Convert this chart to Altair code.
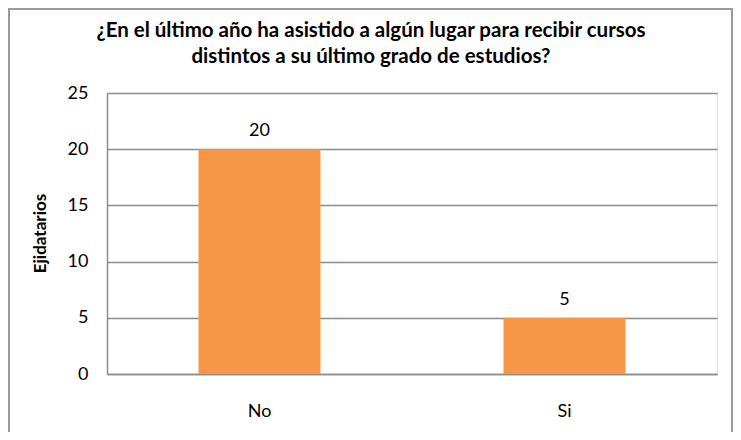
import altair as alt
import pandas as pd

categories = ["No", "Si"]
values = [20, 5]
title_lines = ["¿En el último año ha asistido a algún lugar para recibir cursos",
               "distintos a su último grado de estudios?"]

df = pd.DataFrame({"respuesta": categories, "ejidatarios": values})

W, H = 610, 281
PL, PT, PR, PB = 99, 85, 16, 58
FS = 18

base = alt.Chart(df)

bars = base.mark_bar(color="#F79646", size=122).encode(
    x=alt.X("respuesta:N", sort=categories,
            scale=alt.Scale(paddingInner=0, paddingOuter=0),
            axis=alt.Axis(title=None, labelAngle=0, ticks=False, tickSize=0,
                          labelPadding=28, labelFontSize=FS, labelColor="#000000",
                          labelFont="Lato", domainColor="#8c8c8c", domainWidth=1.5, grid=False)),
    y=alt.Y("ejidatarios:Q",
            scale=alt.Scale(domain=[0, 25], nice=False),
            axis=alt.Axis(values=[0, 5, 10, 15, 20, 25], title="Ejidatarios",
                          titleFont="Lato", titleFontSize=17, titleFontWeight="bold",
                          titleColor="#000000", titleAngle=-90, titleX=-67, titleY=140,
                          titleAlign="center", titleBaseline="middle",
                          labelFont="Lato", labelFontSize=FS, labelColor="#000000",
                          labelPadding=19, ticks=False, tickSize=0,
                          domainColor="#8c8c8c", domainWidth=1.5,
                          grid=True, gridColor="#8c8c8c", gridWidth=1.5)),
)

labels = base.mark_text(font="Lato", fontSize=FS, color="#000000",
                        baseline="alphabetic", dy=-13).encode(
    x=alt.X("respuesta:N", sort=categories),
    y="ejidatarios:Q",
    text="ejidatarios:Q",
)


def title_line(txt, ypos):
    return alt.Chart(pd.DataFrame({"t": [txt]})).mark_text(
        font="Lato", fontSize=20.5, fontWeight="bold", color="#000000",
        baseline="alphabetic", align="center"
    ).encode(x=alt.value(264), y=alt.value(ypos), text="t:N")


title1 = title_line(title_lines[0], -56)
title2 = title_line(title_lines[1], -30)

border = alt.Chart(alt.Data(values=[{}])).mark_rect(
    fill=None, stroke="#9a9a9a", strokeWidth=2
).encode(
    x=alt.value(-PL + 1), x2=alt.value(W + PR - 1),
    y=alt.value(-PT + 1), y2=alt.value(H + PB + 20),
)

chart = alt.layer(bars, labels, title1, title2, border).properties(
    width=W, height=H,
    autosize=alt.AutoSizeParams(type="none"),
    padding={"left": PL, "top": PT, "right": PR, "bottom": PB},
).configure_view(stroke=None).configure(background="white")

chart.save("out.html", embed_options={"renderer": "svg", "actions": False})
